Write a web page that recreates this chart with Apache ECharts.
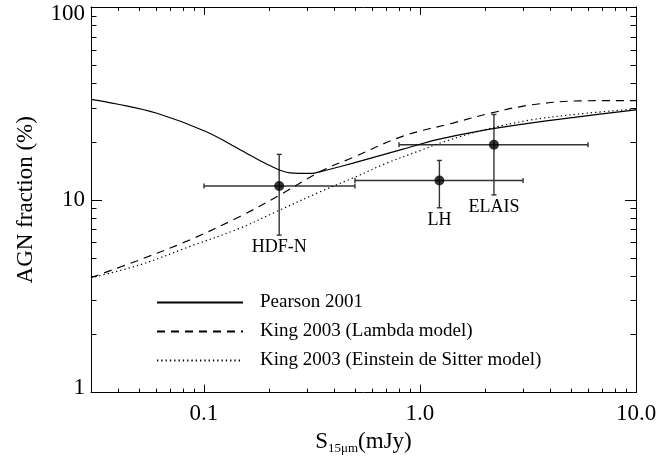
<!DOCTYPE html>
<html>
<head>
<meta charset="utf-8">
<script src="https://cdn.jsdelivr.net/npm/echarts@6/dist/echarts.min.js"></script>
<style>
  html, body { margin: 0; padding: 0; background: #fff; }
  #main { width: 669px; height: 460px; }
</style>
</head>
<body>
<div id="main"></div>
<script>
// model curves (flux in mJy, AGN fraction in %)
const pearsonX = [0.03, 0.0395, 0.0606, 0.102, 0.147, 0.198, 0.25, 0.316, 0.345, 0.383, 0.49, 0.835, 1.2, 1.9, 3.23, 5.51, 10];
const pearsonY = [33.2, 31.4, 28.1, 22.6, 18.2, 15.2, 13.8, 13.7, 14.0, 14.4, 15.5, 18.3, 20.5, 22.8, 25.0, 27.0, 29.3];

const lambdaX = [0.03, 0.0506, 0.0862, 0.147, 0.225, 0.345, 0.49, 0.835, 1.42, 2.11, 3.23, 5.51, 10];
const lambdaY = [3.95, 4.89, 6.2, 8.2, 10.6, 14.0, 16.6, 21.4, 25.0, 28.1, 31.0, 32.6, 32.7];

const edsX = [0.03, 0.0506, 0.0862, 0.147, 0.217, 0.345, 0.491, 0.702, 1.0, 1.24, 1.9, 3.23, 5.51, 10];
const edsY = [3.94, 4.6, 5.73, 7.13, 8.7, 11.0, 13.0, 15.5, 18.0, 19.7, 22.8, 25.9, 27.9, 29.6];

// survey points with error bars
const surveyNames = ["HDF-N", "LH", "ELAIS"];
const surveyX = [0.223, 1.23, 2.2];
const surveyY = [11.8, 12.6, 19.3];
const surveyXLow = [0.1, 0.5, 0.8];
const surveyXHigh = [0.5, 3.0, 6.0];
const surveyYLow = [6.56, 9.09, 10.6];
const surveyYHigh = [17.2, 16.0, 27.7];

// tick values
const xMajorTicks = [0.1, 1, 10];
const xMinorTicks = [0.04, 0.05, 0.06, 0.07, 0.08, 0.09, 0.2, 0.3, 0.4, 0.5, 0.6, 0.7, 0.8, 0.9, 2, 3, 4, 5, 6, 7, 8, 9];
const yMajorTicks = [1, 10, 100];
const yMinorTicks = [2, 3, 4, 5, 6, 7, 8, 9, 20, 30, 40, 50, 60, 70, 80, 90];

const FONT = "Liberation Serif";

function pairs(xs, ys) {
  return xs.map((x, i) => [x, ys[i]]);
}

function xAxisDef(position, ticks, len, withLabels) {
  return {
    type: "log",
    logBase: 10,
    min: 0.03,
    max: 10,
    position: position,
    axisLine: { show: withLabels !== null, onZero: false, lineStyle: { color: "#000", width: 1 } },
    axisTick: { show: true, inside: true, length: len, customValues: ticks, lineStyle: { color: "#000", width: 1 } },
    axisLabel: withLabels
      ? {
          show: true,
          customValues: xMajorTicks,
          margin: 10,
          color: "#000",
          fontFamily: FONT,
          fontSize: 23,
          formatter: (v) => Number(v).toFixed(1),
        }
      : { show: false },
    splitLine: { show: false },
    minorTick: { show: false },
  };
}

function yAxisDef(position, ticks, len, withLabels) {
  return {
    type: "log",
    logBase: 10,
    min: 1,
    max: 100,
    position: position,
    axisLine: { show: withLabels !== null, onZero: false, lineStyle: { color: "#000", width: 1 } },
    axisTick: { show: true, inside: true, length: len, customValues: ticks, lineStyle: { color: "#000", width: 1 } },
    axisLabel: withLabels
      ? {
          show: true,
          customValues: yMajorTicks,
          margin: 6,
          color: "#000",
          fontFamily: FONT,
          fontSize: 23,
          formatter: (v) => {
            if (Math.abs(v - 100) < 1e-6) return "{top|100}";
            if (Math.abs(v - 1) < 1e-6) return "{bot|1}";
            return String(Math.round(v));
          },
          rich: {
            top: { fontFamily: FONT, fontSize: 23, color: "#000", padding: [14, 0, 0, 0] },
            bot: { fontFamily: FONT, fontSize: 23, color: "#000", padding: [0, 0, 10, 0] },
          },
        }
      : { show: false },
    splitLine: { show: false },
    minorTick: { show: false },
  };
}

const xAxes = [
  xAxisDef("bottom", xMajorTicks, 8, true),
  xAxisDef("bottom", xMinorTicks, 4, null),
  xAxisDef("top", xMajorTicks, 8, false),
  xAxisDef("top", xMinorTicks, 4, null),
];
xAxes[0].name = "{s|S}{sub|15μm}{m|(mJy)}";
xAxes[0].nameLocation = "middle";
xAxes[0].nameGap = 32;
xAxes[0].nameTextStyle = {
  color: "#000",
  rich: {
    s: { fontFamily: FONT, fontSize: 23, lineHeight: 26, color: "#000" },
    sub: { fontFamily: FONT, fontSize: 13, color: "#000", verticalAlign: "bottom" },
    m: { fontFamily: FONT, fontSize: 23, lineHeight: 26, color: "#000" },
  },
};

const yAxes = [
  yAxisDef("left", yMajorTicks, 11, true),
  yAxisDef("left", yMinorTicks, 5.5, null),
  yAxisDef("right", yMajorTicks, 11, false),
  yAxisDef("right", yMinorTicks, 5.5, null),
];
yAxes[0].name = "AGN fraction (%)";
yAxes[0].nameLocation = "middle";
yAxes[0].nameGap = 54;
yAxes[0].nameTextStyle = { color: "#000", fontFamily: FONT, fontSize: 23 };

const errorData = surveyX.map((x, i) => [x, surveyY[i], surveyXLow[i], surveyXHigh[i], surveyYLow[i], surveyYHigh[i]]);

// error bars with caps, plus the survey name under each lower bar
function renderErrorBar(params, api) {
  const x = api.value(0), y = api.value(1);
  const lo = api.coord([api.value(2), y]);
  const hi = api.coord([api.value(3), y]);
  const bot = api.coord([x, api.value(4)]);
  const top = api.coord([x, api.value(5)]);
  const cap = 2.5;
  const style = { stroke: "#333", lineWidth: 1.4 };
  const seg = (x1, y1, x2, y2) => ({ type: "line", shape: { x1, y1, x2, y2 }, style });
  return {
    type: "group",
    children: [
      seg(lo[0], lo[1], hi[0], hi[1]),
      seg(lo[0], lo[1] - cap, lo[0], lo[1] + cap),
      seg(hi[0], hi[1] - cap, hi[0], hi[1] + cap),
      seg(bot[0], bot[1], top[0], top[1]),
      seg(bot[0] - cap, bot[1], bot[0] + cap, bot[1]),
      seg(top[0] - cap, top[1], top[0] + cap, top[1]),
      {
        type: "text",
        x: bot[0],
        y: bot[1] + 3,
        style: {
          text: surveyNames[params.dataIndex],
          fill: "#000",
          font: "18px " + FONT,
          align: "center",
          verticalAlign: "top",
        },
      },
    ],
  };
}

function modelLine(name, xs, ys, dash) {
  return {
    name: name,
    type: "line",
    data: pairs(xs, ys),
    showSymbol: false,
    symbol: "none",
    smooth: 0.35,
    lineStyle: { color: "#000", width: 1.2, type: dash },
    itemStyle: { color: "#000", opacity: 0 },
  };
}

const options = {
  animation: false,
  backgroundColor: "#fff",
  grid: { left: 91, right: 33, top: 7, bottom: 67, containLabel: false },
  xAxis: xAxes,
  yAxis: yAxes,
  legend: {
    orient: "vertical",
    left: 156,
    top: 293,
    padding: 0,
    itemWidth: 86,
    itemHeight: 14,
    itemGap: 10,
    selectedMode: false,
    itemStyle: { opacity: 0 },
    data: ["Pearson 2001", "King 2003 (Lambda model)", "King 2003 (Einstein de Sitter model)"],
    formatter: (name) => "{t|" + name + "}",
    textStyle: {
      color: "#000",
      fontFamily: FONT,
      fontSize: 19,
      rich: { t: { fontFamily: FONT, fontSize: 19, color: "#000", padding: [0, 0, 0, 12] } },
    },
  },
  series: [
    modelLine("Pearson 2001", pearsonX, pearsonY, "solid"),
    modelLine("King 2003 (Lambda model)", lambdaX, lambdaY, [8, 6]),
    modelLine("King 2003 (Einstein de Sitter model)", edsX, edsY, [1.3, 3]),
    {
      name: "errors",
      type: "custom",
      renderItem: renderErrorBar,
      data: errorData,
      encode: { x: 0, y: 1 },
      z: 3,
    },
    {
      name: "points",
      type: "scatter",
      data: pairs(surveyX, surveyY),
      symbol: "circle",
      symbolSize: 10,
      itemStyle: { color: "#000" },
      z: 4,
    },
  ],
};

let myChart = echarts.init(document.getElementById("main"));
myChart.setOption(options);
</script>
</body>
</html>
